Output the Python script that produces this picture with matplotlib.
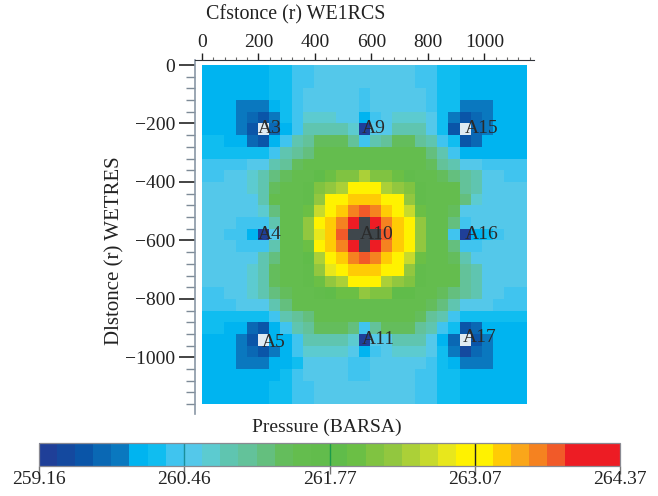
#!/usr/bin/env python3

import matplotlib
matplotlib.use("Agg")
import matplotlib.pyplot as plt
import numpy as np
from matplotlib.colors import BoundaryNorm, ListedColormap
from matplotlib.ticker import MultipleLocator

P_MIN = 259.16
P_MAX = 264.37
CBAR_TICKS = [259.16, 260.46, 261.77, 263.07, 264.37]
CBAR_TICK_LABELS = ["259.16", "260.46", "261.77", "263.07", "264.37"]

# colour band of every grid cell (0 = below range, 33 = above range)
BANDS = [
    [6, 6, 6, 6, 6, 6, 7, 7, 8, 8, 9, 9, 9, 9, 9, 9, 9, 9, 9, 8, 8, 7, 7, 6, 6, 6, 6, 6, 6],
    [6, 6, 6, 6, 6, 6, 7, 7, 8, 8, 9, 9, 9, 9, 9, 9, 9, 9, 9, 8, 8, 7, 7, 6, 6, 6, 6, 6, 6],
    [6, 6, 6, 6, 6, 6, 7, 7, 8, 9, 9, 9, 9, 9, 8, 9, 9, 9, 9, 9, 8, 7, 7, 6, 6, 6, 6, 6, 6],
    [6, 6, 6, 5, 5, 5, 6, 7, 8, 9, 9, 9, 9, 9, 8, 9, 9, 9, 9, 9, 8, 7, 7, 5, 5, 5, 6, 6, 6],
    [6, 6, 6, 5, 4, 3, 5, 7, 8, 10, 10, 10, 9, 9, 6, 8, 9, 10, 10, 10, 9, 7, 5, 3, 4, 5, 6, 6, 6],
    [6, 6, 6, 5, 3, 0, 4, 6, 8, 11, 11, 11, 11, 10, 1, 9, 9, 11, 11, 11, 9, 7, 3, 0, 4, 5, 6, 6, 6],
    [7, 7, 6, 6, 4, 3, 6, 8, 11, 12, 14, 14, 14, 12, 8, 11, 12, 14, 14, 12, 11, 8, 7, 3, 4, 6, 6, 6, 6],
    [7, 7, 7, 7, 7, 7, 8, 11, 12, 13, 15, 15, 15, 15, 15, 15, 15, 15, 15, 15, 13, 11, 8, 6, 6, 6, 6, 6, 6],
    [8, 8, 8, 8, 9, 9, 11, 12, 14, 15, 15, 15, 15, 15, 15, 15, 15, 15, 15, 15, 14, 12, 11, 9, 9, 8, 8, 8, 8],
    [8, 8, 9, 9, 10, 11, 13, 14, 15, 15, 17, 18, 19, 19, 21, 19, 19, 18, 16, 15, 15, 14, 13, 12, 11, 9, 9, 8, 8],
    [9, 9, 9, 9, 10, 11, 14, 15, 15, 16, 19, 20, 21, 24, 24, 24, 21, 20, 19, 16, 15, 15, 15, 12, 11, 9, 9, 9, 9],
    [9, 9, 9, 9, 9, 11, 15, 15, 15, 16, 20, 24, 24, 26, 26, 26, 24, 24, 20, 16, 15, 15, 15, 13, 10, 9, 9, 9, 9],
    [9, 9, 9, 9, 9, 10, 13, 15, 15, 18, 22, 24, 26, 28, 29, 28, 26, 24, 22, 18, 15, 15, 14, 9, 9, 9, 9, 9, 9],
    [9, 9, 9, 8, 8, 8, 11, 15, 15, 20, 24, 26, 28, 30, 33, 30, 28, 26, 24, 20, 15, 15, 13, 8, 9, 9, 9, 9, 9],
    [9, 9, 8, 8, 6, 1, 9, 15, 15, 20, 23, 26, 29, 33, 33, 33, 29, 26, 24, 20, 15, 15, 8, 1, 6, 7, 8, 9, 9],
    [9, 9, 9, 8, 8, 8, 11, 15, 15, 18, 24, 26, 28, 30, 33, 30, 28, 26, 24, 20, 15, 15, 13, 8, 8, 9, 9, 9, 9],
    [9, 9, 9, 9, 9, 11, 13, 15, 15, 17, 21, 24, 26, 28, 29, 28, 26, 24, 22, 18, 15, 15, 14, 11, 9, 9, 9, 9, 9],
    [9, 9, 9, 9, 10, 11, 14, 15, 15, 16, 20, 23, 24, 26, 26, 26, 24, 24, 20, 16, 15, 15, 15, 12, 11, 9, 9, 9, 9],
    [9, 9, 9, 9, 10, 11, 14, 15, 15, 16, 18, 20, 21, 24, 24, 24, 21, 20, 19, 16, 15, 15, 15, 12, 11, 9, 9, 9, 9],
    [8, 8, 9, 9, 10, 11, 13, 14, 15, 15, 16, 17, 18, 18, 20, 19, 19, 17, 17, 15, 15, 14, 13, 12, 11, 9, 9, 8, 8],
    [8, 8, 8, 9, 9, 9, 11, 13, 15, 15, 15, 15, 15, 15, 15, 15, 15, 15, 15, 15, 14, 13, 11, 9, 9, 9, 8, 8, 8],
    [7, 7, 7, 7, 7, 7, 8, 11, 12, 13, 15, 15, 15, 15, 15, 15, 15, 15, 15, 14, 12, 11, 8, 7, 7, 7, 7, 7, 7],
    [7, 7, 6, 6, 4, 3, 6, 8, 11, 12, 14, 14, 14, 13, 8, 12, 14, 14, 14, 12, 11, 8, 7, 3, 4, 6, 6, 6, 6],
    [6, 6, 6, 5, 3, 0, 6, 6, 8, 11, 11, 11, 11, 10, 1, 9, 9, 11, 11, 11, 9, 6, 4, 0, 3, 5, 6, 6, 6],
    [6, 6, 6, 5, 4, 3, 5, 6, 8, 10, 10, 10, 10, 9, 6, 8, 9, 10, 10, 10, 9, 7, 5, 2, 4, 5, 6, 6, 6],
    [6, 6, 6, 5, 5, 5, 6, 6, 7, 9, 9, 9, 9, 8, 8, 9, 9, 9, 9, 9, 8, 7, 6, 5, 5, 5, 6, 6, 6],
    [6, 6, 6, 6, 6, 6, 6, 7, 8, 9, 9, 9, 9, 8, 8, 9, 9, 9, 9, 8, 8, 7, 7, 6, 6, 6, 6, 6, 6],
    [6, 6, 6, 6, 6, 6, 7, 7, 8, 8, 9, 9, 9, 9, 9, 9, 9, 9, 9, 8, 8, 7, 7, 6, 6, 6, 6, 6, 6],
    [6, 6, 6, 6, 6, 6, 7, 7, 8, 8, 9, 9, 9, 9, 9, 9, 9, 9, 9, 8, 8, 7, 7, 6, 6, 6, 6, 6, 6],
]

BAND_COLORS = [
    "#1f3f98", "#14499f", "#0a55a8", "#0a68b4", "#0a78bf", "#00b4f0", "#10bdf0", "#40c4ef",
    "#54c8ea", "#5ccbd0", "#5fc5b0", "#63c29a", "#64bf7e", "#64bd5c", "#64bd4e", "#62bc4c",
    "#60bc4a", "#6bbf45", "#80c341", "#92c73f", "#abd038", "#c7da2d", "#e8e71c", "#fff200",
    "#fff200", "#ffcb05", "#faa61a", "#f58220", "#f15a29", "#ed1c24", "#ed1c24", "#ed1c24",
]

WELL_NAMES = ["A3", "A9", "A15", "A4", "A10", "A16", "A5", "A11", "A17"]
WELL_X = [198, 565, 930, 198, 560, 930, 212, 565, 925]
WELL_Y = [-218, -218, -218, -580, -580, -580, -948, -940, -933]

X_LABEL = "Cfstonce (r) WE1RCS"
Y_LABEL = "Dlstonce (r) WETRES"
CBAR_LABEL = "Pressure (BARSA)"

W, H = 658, 496


def px_axes(fig, left, top, right, bottom):
    return fig.add_axes([left / W, 1 - bottom / H, (right - left) / W, (bottom - top) / H])


def main():
    plt.rcParams["font.family"] = ["Liberation Serif", "DejaVu Serif"]
    plt.rcParams["axes.unicode_minus"] = True

    fig = plt.figure(figsize=(W / 100, H / 100), dpi=100)
    ax = px_axes(fig, 202, 65, 532.5, 410)

    levels = np.linspace(P_MIN, P_MAX, len(BAND_COLORS) + 1)
    step = levels[1] - levels[0]
    pressure = P_MIN + (np.array(BANDS) - 0.5) * step

    cmap = ListedColormap(BAND_COLORS)
    cmap.set_under("#dfeaf2")
    cmap.set_over("#3f474c")
    norm = BoundaryNorm(levels, cmap.N)

    x_edges = np.linspace(0, 1150, 30)
    y_edges = np.linspace(0, -1160, 30)
    mesh = ax.pcolormesh(x_edges, y_edges, pressure, cmap=cmap, norm=norm, antialiased=False)

    ax.set_xlim(0, 1170)
    ax.set_ylim(-1180, 0)

    for name, x, y in zip(WELL_NAMES, WELL_X, WELL_Y):
        ax.text(x, y, name, fontsize=14, color="#2a2a2a", ha="left", va="center")

    # axis lines sit a little off the data, like the original
    for side in ("right", "bottom"):
        ax.spines[side].set_visible(False)
    ax.spines["top"].set_position(("outward", 3.6))
    ax.spines["left"].set_position(("outward", 5))
    ax.spines["top"].set_bounds(-24, 1175)
    ax.spines["left"].set_bounds(-1195, 17)
    ax.spines["top"].set_color("#30343a")
    ax.spines["left"].set_color("#8a97a5")
    ax.spines["left"].set_linewidth(1.2)

    ax.xaxis.tick_top()
    ax.xaxis.set_major_locator(MultipleLocator(200))
    ax.xaxis.set_minor_locator(MultipleLocator(40))
    ax.yaxis.set_major_locator(MultipleLocator(200))
    ax.yaxis.set_minor_locator(MultipleLocator(40))
    ax.tick_params(axis="x", which="major", length=5, width=1, labelsize=14, pad=1.5, color="#222222", labelcolor="#222222")
    ax.tick_params(axis="x", which="minor", length=2.2, width=0.8, color="#666666")
    ax.tick_params(axis="y", which="major", length=11.5, width=1.1, labelsize=14, pad=3, color="#111111", labelcolor="#222222")
    ax.tick_params(axis="y", which="minor", length=6.5, width=1, color="#7d8a97")

    fig.text(296 / W, 1 - 15 / H, X_LABEL, fontsize=14.4, color="#222222", ha="center", va="center")
    fig.text(115 / W, 1 - 251 / H, Y_LABEL, fontsize=15, color="#222222", ha="center", va="center", rotation=90)
    fig.text(327 / W, 1 - 427 / H, CBAR_LABEL, fontsize=14, color="#222222", ha="center", va="center")

    cax = px_axes(fig, 38.5, 443, 620, 466)
    cbar = fig.colorbar(mesh, cax=cax, orientation="horizontal", spacing="uniform")
    cbar.set_ticks(CBAR_TICKS)
    cbar.set_ticklabels(CBAR_TICK_LABELS)
    cbar.minorticks_off()
    cbar.dividers.set_visible(False)
    cbar.outline.set_edgecolor("#8a8a92")
    cbar.outline.set_linewidth(0.9)
    cax.tick_params(axis="x", length=5.8, width=1, labelsize=14, pad=-2.5, color="#777777", labelcolor="#222222")
    cax.axvline(CBAR_TICKS[1], color="#1a8f9c", lw=1)
    cax.axvline(CBAR_TICKS[2], color="#1c9a4a", lw=1)
    cax.axvline(CBAR_TICKS[3], color="#222222", lw=1)

    fig.savefig("out.png", dpi=100)


if __name__ == "__main__":
    main()
